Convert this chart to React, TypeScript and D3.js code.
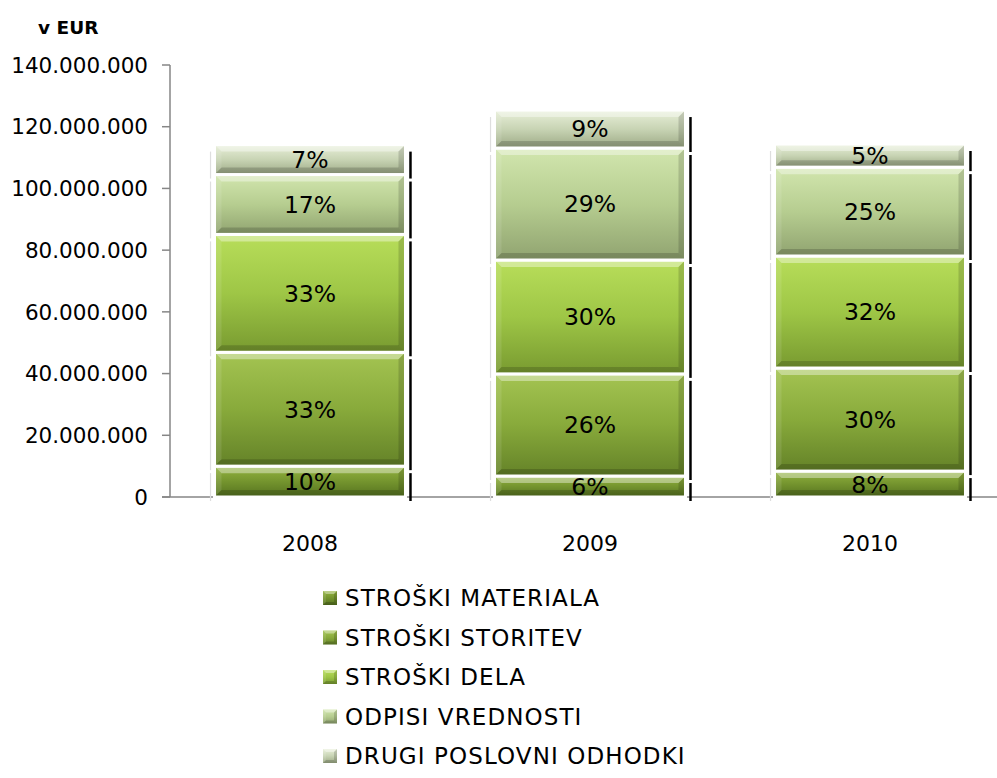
import React from "react";
import * as d3 from "d3";

const categories = ["2008", "2009", "2010"];
const seriesNames = [
  "STROŠKI MATERIALA",
  "STROŠKI STORITEV",
  "STROŠKI DELA",
  "ODPISI VREDNOSTI",
  "DRUGI POSLOVNI ODHODKI",
];
// values in millions EUR, per series, per category
const materiala = [10.0, 6.8, 8.4];
const storitev = [36.9, 33.1, 33.4];
const dela = [38.2, 36.9, 36.3];
const odpisi = [19.4, 36.3, 28.8];
const drugi = [9.7, 12.3, 7.5];
const seriesValues = [materiala, storitev, dela, odpisi, drugi];

const pctMateriala = ["10%", "6%", "8%"];
const pctStoritev = ["33%", "26%", "30%"];
const pctDela = ["33%", "30%", "32%"];
const pctOdpisi = ["17%", "29%", "25%"];
const pctDrugi = ["7%", "9%", "5%"];
const seriesLabels = [pctMateriala, pctStoritev, pctDela, pctOdpisi, pctDrugi];

const yTicks = [0, 20, 40, 60, 80, 100, 120, 140];
const yTickLabels = ["0", "20.000.000", "40.000.000", "60.000.000", "80.000.000", "100.000.000", "120.000.000", "140.000.000"];

const colors = [
  { top: "#94b440", mid: "#74942e", bot: "#55721f" },
  { top: "#a4c452", mid: "#88aa3b", bot: "#648228" },
  { top: "#b8de5a", mid: "#9ec646", bot: "#789a30" },
  { top: "#d2e6ae", mid: "#b6cd90", bot: "#90a370" },
  { top: "#e9f0da", mid: "#c8d4b4", bot: "#9ca985" },
];

const FONT = "'DejaVu Sans', Verdana, sans-serif";

function Bevel({ x, y, w, h, b, gid }: { x: number; y: number; w: number; h: number; b: number; gid: string }) {
  const bb = Math.min(b, h / 2, w / 2);
  const x1 = x + w, y1 = y + h;
  return (
    <g>
      <rect x={x} y={y} width={w} height={h} fill={`url(#${gid})`} />
      <polygon points={`${x},${y} ${x1},${y} ${x1 - bb},${y + bb} ${x + bb},${y + bb}`} fill="#fff" opacity={0.38} />
      <polygon points={`${x},${y} ${x + bb},${y + bb} ${x + bb},${y1 - bb} ${x},${y1}`} fill="#fff" opacity={0.1} />
      <polygon points={`${x1},${y} ${x1},${y1} ${x1 - bb},${y1 - bb} ${x1 - bb},${y + bb}`} fill="#000" opacity={0.15} />
      <polygon points={`${x},${y1} ${x1},${y1} ${x1 - bb},${y1 - bb} ${x + bb},${y1 - bb}`} fill="#000" opacity={0.17} />
    </g>
  );
}

export default function App() {
  const width = 997, height = 778;
  const x = d3.scaleBand<string>().domain(categories).range([170, 1010]).paddingInner(0.318).paddingOuter(0.159);
  const y = d3.scaleLinear().domain([0, 140]).range([497, 65]);

  const table = categories.map((c, i) => {
    const row: any = { cat: c };
    seriesNames.forEach((s, k) => (row[s] = seriesValues[k][i]));
    return row;
  });
  const stacked = d3.stack<any>().keys(seriesNames)(table);

  const bw = x.bandwidth();

  return (
    <svg width={width} height={height} style={{ position: "absolute", left: 0, top: 0, background: "#fff" }}>
      <defs>
        {colors.map((c, k) => (
          <linearGradient key={k} id={`g${k}`} x1="0" y1="0" x2="0" y2="1">
            <stop offset="0" stopColor={c.top} />
            <stop offset="0.5" stopColor={c.mid} />
            <stop offset="1" stopColor={c.bot} />
          </linearGradient>
        ))}
      </defs>

      <text x={38} y={34} fontFamily={FONT} fontWeight="bold" fontSize={18.5} fill="#000">v EUR</text>

      {/* y axis */}
      <line x1={170} x2={170} y1={y(140)} y2={y(0)} stroke="#868686" strokeWidth={1.5} />
      {yTicks.map((t, i) => (
        <g key={t}>
          <line x1={162} x2={170} y1={y(t)} y2={y(t)} stroke="#868686" strokeWidth={1.5} />
          <text x={148} y={y(t)} dy="0.36em" textAnchor="end" fontFamily={FONT} fontSize={21.5} fill="#000">
            {yTickLabels[i]}
          </text>
        </g>
      ))}
      <line x1={162} x2={997} y1={y(0)} y2={y(0)} stroke="#868686" strokeWidth={1.5} />

      {/* bars */}
      {stacked.map((ser, k) =>
        ser.map((d, i) => {
          const cat = categories[i];
          const bx = x(cat)!;
          const yt = y(d[1]);
          const yb = y(d[0]);
          return (
            <g key={`${k}-${i}`}>
              <line x1={bx - 4} x2={bx - 4} y1={yt + 7} y2={yb + 4} stroke="#dedede" strokeWidth={1.2} />
              <line x1={bx + bw + 5} x2={bx + bw + 5} y1={yt + 7} y2={yb + 4} stroke="#000" strokeWidth={2.5} />
              <Bevel x={bx} y={yt} w={bw} h={yb - yt} b={7} gid={`g${k}`} />
              <rect x={bx} y={yt} width={bw} height={yb - yt} fill="none" stroke="#fff" strokeWidth={3} />
            </g>
          );
        })
      )}
      {stacked.map((ser, k) =>
        ser.map((d, i) => {
          const cat = categories[i];
          const cx = x(cat)! + bw / 2;
          const cy = (y(d[0]) + y(d[1])) / 2;
          return (
            <text key={`t${k}-${i}`} x={cx} y={cy} dy="0.36em" textAnchor="middle" fontFamily={FONT} fontSize={23.5} fill="#000">
              {seriesLabels[k][i]}
            </text>
          );
        })
      )}

      {/* x labels */}
      {categories.map((c) => (
        <text key={c} x={x(c)! + bw / 2} y={543} dy="0.36em" textAnchor="middle" fontFamily={FONT} fontSize={22} fill="#000">
          {c}
        </text>
      ))}

      {/* legend */}
      {seriesNames.map((s, k) => {
        const cy = 598 + k * 39.5;
        return (
          <g key={s}>
            <Bevel x={323} y={cy - 7} w={14} h={14} b={3} gid={`g${k}`} />
            <text x={345} y={cy} dy="0.36em" fontFamily={FONT} fontSize={23} letterSpacing={1.1} fill="#000">
              {s}
            </text>
          </g>
        );
      })}
    </svg>
  );
}
